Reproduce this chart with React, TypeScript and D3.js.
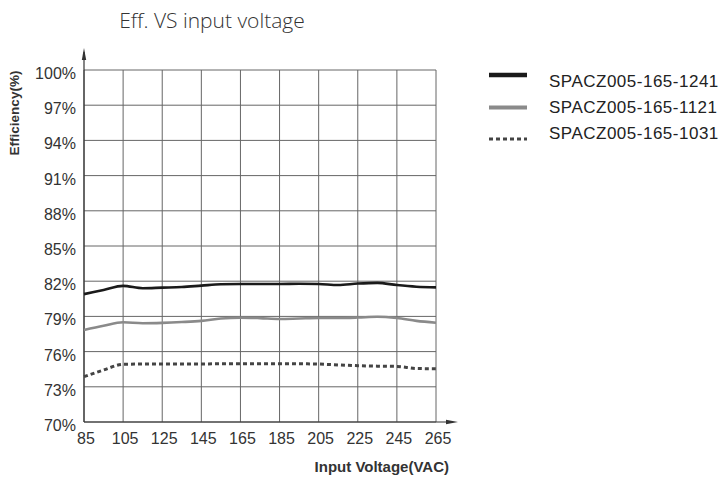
import React from "react";
import * as d3 from "d3";

const voltages = [85, 95, 105, 115, 125, 135, 145, 155, 165, 175, 185, 195, 205, 215, 225, 235, 245, 255, 265];
const eff1241 = [80.9, 81.25, 81.6, 81.4, 81.45, 81.5, 81.62, 81.74, 81.76, 81.76, 81.76, 81.78, 81.76, 81.67, 81.8, 81.86, 81.67, 81.53, 81.47];
const eff1121 = [77.84, 78.2, 78.5, 78.42, 78.45, 78.52, 78.62, 78.82, 78.89, 78.85, 78.78, 78.82, 78.86, 78.86, 78.9, 78.97, 78.86, 78.62, 78.46];
const eff1031 = [73.86, 74.43, 74.92, 74.94, 74.95, 74.95, 74.95, 74.96, 74.96, 74.97, 74.97, 74.96, 74.94, 74.86, 74.8, 74.76, 74.74, 74.56, 74.54];

const seriesNames = ["SPACZ005-165-1241", "SPACZ005-165-1121", "SPACZ005-165-1031"];
const xTicks = [85, 105, 125, 145, 165, 185, 205, 225, 245, 265];
const yTicks = [70, 73, 76, 79, 82, 85, 88, 91, 94, 97, 100];

const title = "Eff. VS input voltage";
const xLabel = "Input Voltage(VAC)";
const yLabel = "Efficiency(%)";

export default function App() {
  const x = d3.scaleLinear().domain([85, 265]).range([84, 436]);
  const y = d3.scaleLinear().domain([70, 100]).range([422, 70]);
  const line = d3
    .line<number>()
    .x((_, i) => x(voltages[i]))
    .y((d) => y(d))
    .curve(d3.curveMonotoneX);

  const styles = [
    { stroke: "#1a1a1a", width: 2.6, dash: undefined as string | undefined, lw: 4.5 },
    { stroke: "#8a8a8a", width: 2.6, dash: undefined as string | undefined, lw: 4 },
    { stroke: "#444", width: 3, dash: "4,3", lw: 3 },
  ];
  const data = [eff1241, eff1121, eff1031];
  const legendY = [75, 107.5, 139];
  const legendTextY = [81, 107, 133];

  const tickFont = "'Liberation Sans', Arial, sans-serif";

  return (
    <svg
      width={726}
      height={477}
      style={{ position: "absolute", left: 0, top: 0, background: "#fff" }}
    >
      <rect width={726} height={477} fill="#fff" />
      <text
        x={212}
        y={28}
        textAnchor="middle"
        fontFamily="'Open Sans', sans-serif"
        fontWeight={300}
        fontSize={21}
        fill="#333"
      >
        {title}
      </text>

      {/* grid */}
      {xTicks.map((t) => (
        <line key={"gx" + t} x1={x(t)} x2={x(t)} y1={y(100)} y2={y(70)} stroke="#666" strokeWidth={1} />
      ))}
      {yTicks.map((t) => (
        <line key={"gy" + t} x1={x(85)} x2={x(265)} y1={y(t)} y2={y(t)} stroke="#666" strokeWidth={1} />
      ))}

      {/* axes with arrows */}
      <line x1={x(85)} x2={x(85)} y1={y(70)} y2={52} stroke="#333" strokeWidth={1.2} />
      <path d={`M${x(85) - 2.2},${60} L${x(85)},${48} L${x(85) + 2.2},${60} Z`} fill="#333" />
      <line x1={x(85)} x2={452} y1={y(70)} y2={y(70)} stroke="#333" strokeWidth={1.2} />
      <path d={`M${446},${y(70) - 2.2} L${458},${y(70)} L${446},${y(70) + 2.2} Z`} fill="#333" />

      {/* y tick labels */}
      {yTicks.map((t) => (
        <text
          key={"yl" + t}
          x={76}
          y={y(t) + 9}
          textAnchor="end"
          fontFamily={tickFont}
          fontSize={16}
          fill="#333"
        >
          {t + "%"}
        </text>
      ))}
      {/* x tick labels */}
      {xTicks.map((t) => (
        <text
          key={"xl" + t}
          x={x(t) + 2}
          y={444}
          textAnchor="middle"
          fontFamily={tickFont}
          fontSize={16}
          fill="#333"
        >
          {t}
        </text>
      ))}

      <text
        x={449}
        y={472}
        textAnchor="end"
        fontFamily={tickFont}
        fontWeight="bold"
        fontSize={15}
        fill="#333"
      >
        {xLabel}
      </text>
      <text
        transform={`translate(19,113) rotate(-90)`}
        textAnchor="middle"
        fontFamily={tickFont}
        fontWeight="bold"
        fontSize={13.5}
        fill="#333"
      >
        {yLabel}
      </text>

      {/* series */}
      {data.map((d, i) => (
        <path
          key={"s" + i}
          d={line(d) || ""}
          fill="none"
          stroke={styles[i].stroke}
          strokeWidth={styles[i].width}
          strokeDasharray={styles[i].dash}
        />
      ))}

      {/* legend */}
      {seriesNames.map((n, i) => (
        <g key={"lg" + i}>
          <line
            x1={489}
            x2={527}
            y1={legendY[i]}
            y2={legendY[i]}
            stroke={styles[i].stroke}
            strokeWidth={styles[i].lw}
            strokeDasharray={styles[i].dash}
          />
          <text
            x={549}
            y={legendTextY[i] + 6}
            fontFamily={tickFont}
            fontSize={17}
            letterSpacing={0.5}
            fill="#222"
          >
            {n}
          </text>
        </g>
      ))}
    </svg>
  );
}
